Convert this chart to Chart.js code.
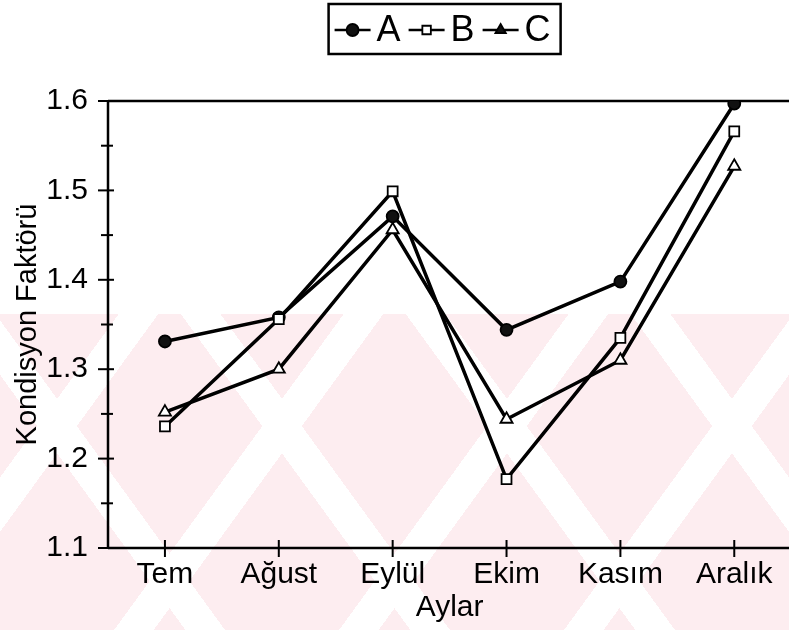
<!DOCTYPE html>
<html>
<head>
<meta charset="utf-8">
<script src="https://cdn.jsdelivr.net/npm/chart.js@4"></script>
<style>
  html, body { margin: 0; padding: 0; background: #fff; overflow: hidden; }
  #wrap { position: relative; width: 789px; height: 630px; overflow: hidden; }
  #wm {
    position: absolute; left: 0; top: 314px; width: 789px; height: 316px;
    background-color: #fdedf0;
    background-image:
      repeating-linear-gradient(54deg, transparent 0 150px, #fff 150px 182px),
      repeating-linear-gradient(-54deg, transparent 0 150px, #fff 150px 182px);
  }
  canvas { position: absolute; left: 0; top: 0; }
</style>
</head>
<body>
<div id="wrap">
  <div id="wm"></div>
  <canvas id="kfChart" width="800" height="630"></canvas>
</div>
<script>
// veriler
const months = ['Tem', 'Ağust', 'Eylül', 'Ekim', 'Kasım', 'Aralık'];
const seriesA = [1.331, 1.358, 1.471, 1.344, 1.398, 1.597];
const seriesB = [1.236, 1.356, 1.499, 1.177, 1.335, 1.566];
const seriesC = [1.252, 1.300, 1.456, 1.244, 1.310, 1.527];
const yTicks = [1.1, 1.2, 1.3, 1.4, 1.5, 1.6];
const yMinorTicks = [1.15, 1.25, 1.35, 1.45, 1.55];

const FONT = '"Liberation Sans", Arial, sans-serif';
Chart.defaults.font.family = FONT;
Chart.defaults.color = '#000';

// eksen çizgileri ve çentikler
const axisMarks = {
  id: 'axisMarks',
  beforeDatasetsDraw(chart) {
    const { ctx, chartArea: a, scales: { x, y } } = chart;
    const seg = (x1, y1, x2, y2) => { ctx.beginPath(); ctx.moveTo(x1, y1); ctx.lineTo(x2, y2); ctx.stroke(); };
    ctx.save();
    ctx.strokeStyle = '#000';
    ctx.lineWidth = 2.5;
    seg(a.left, y.getPixelForValue(1.6), chart.width, y.getPixelForValue(1.6));
    seg(a.left, a.bottom, chart.width, a.bottom);
    seg(a.left, a.top, a.left, a.bottom);
    ctx.lineWidth = 2;
    yTicks.forEach(v => { const py = y.getPixelForValue(v); seg(a.left - 10, py, a.left + 6, py); });
    yMinorTicks.forEach(v => { const py = y.getPixelForValue(v); seg(a.left - 7, py, a.left + 5, py); });
    months.forEach((m, i) => { const px = x.getPixelForValue(i); seg(px, a.bottom - 8, px, a.bottom + 9); });
    ctx.restore();
  }
};

// çerçeveli lejant
const boxLegend = {
  id: 'boxLegend',
  afterDraw(chart) {
    const { ctx, chartArea: a } = chart;
    const sets = chart.data.datasets;
    ctx.save();
    ctx.font = '36px ' + FONT;
    const segLen = 36, gap = 6, itemGap = 8, padL = 6, padR = 10;
    let w = padL + padR;
    sets.forEach((d, i) => { w += segLen + gap + ctx.measureText(d.label).width + (i < sets.length - 1 ? itemGap : 0); });
    const cx = (a.left + a.right) / 2 - 5;
    const top = 4, bottom = 54, cy = 30;
    let px = cx - w / 2;
    ctx.strokeStyle = '#000';
    ctx.lineWidth = 2.5;
    ctx.strokeRect(px, top, w, bottom - top);
    px += padL;
    sets.forEach(d => {
      ctx.lineWidth = 2.5;
      ctx.beginPath(); ctx.moveTo(px, cy); ctx.lineTo(px + segLen, cy); ctx.stroke();
      ctx.fillStyle = d.legendFill;
      ctx.lineWidth = 1.8;
      Chart.helpers.drawPoint(ctx, { pointStyle: d.pointStyle, radius: 6, rotation: 0, borderWidth: 1.8 }, px + segLen / 2, cy);
      px += segLen + gap;
      ctx.fillStyle = '#000';
      ctx.textBaseline = 'middle';
      ctx.textAlign = 'left';
      ctx.fillText(d.label, px, cy + 1);
      px += ctx.measureText(d.label).width + itemGap;
    });
    ctx.restore();
  }
};

const lineBase = { borderColor: '#000', borderWidth: 3.5, tension: 0, pointBorderColor: '#000', pointBorderWidth: 1.8 };

new Chart(document.getElementById('kfChart').getContext('2d'), {
  type: 'line',
  data: {
    labels: months,
    datasets: [
      { ...lineBase, label: 'A', data: seriesA, pointStyle: 'circle', pointRadius: 6, pointBackgroundColor: '#111', legendFill: '#111', order: 1 },
      { ...lineBase, label: 'B', data: seriesB, pointStyle: 'rect', pointRadius: 7, pointBackgroundColor: '#fff', legendFill: '#fff', order: 0 },
      { ...lineBase, label: 'C', data: seriesC, pointStyle: 'triangle', pointRadius: 7, pointBackgroundColor: '#fff', legendFill: '#111', order: 2 }
    ]
  },
  options: {
    responsive: false,
    animation: false,
    layout: { padding: { top: 101, right: 3, left: 0, bottom: 0 } },
    plugins: { legend: { display: false }, tooltip: { enabled: false } },
    scales: {
      x: {
        type: 'category',
        offset: true,
        grid: { display: false, drawTicks: false },
        border: { display: false },
        ticks: { font: { size: 30 }, padding: 9, color: '#000' },
        title: { display: true, text: 'Aylar', font: { size: 30 }, padding: { top: 0, bottom: 4 } },
        afterFit(scale) { scale.height = 82; }
      },
      y: {
        min: 1.1,
        max: 1.6,
        grid: { display: false, drawTicks: false },
        border: { display: false },
        afterBuildTicks(scale) { scale.ticks = yTicks.map(v => ({ value: v })); },
        ticks: { font: { size: 30 }, padding: 20, color: '#000', callback: v => v.toFixed(1) },
        title: { display: true, text: 'Kondisyon Faktörü', font: { size: 29 }, padding: { top: 11, bottom: 0 } },
        afterFit(scale) { scale.width = 108; }
      }
    }
  },
  plugins: [axisMarks, boxLegend]
});
</script>
</body>
</html>
